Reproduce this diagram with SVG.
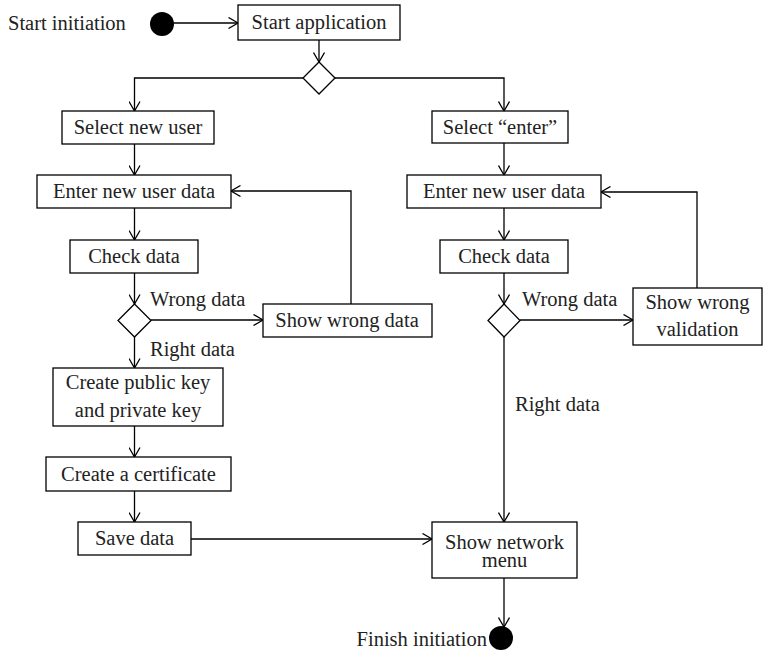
<svg xmlns="http://www.w3.org/2000/svg" width="765" height="657" viewBox="0 0 765 657">
<defs>
<marker id="arr" viewBox="0 0 10 12" refX="10" refY="6" markerWidth="10" markerHeight="12" markerUnits="userSpaceOnUse" orient="auto">
<path d="M0.5,0.5 L10,6 L0.5,11.5" fill="none" stroke="#000" stroke-width="1.3"/>
</marker>
<style>
.box{fill:#fff;stroke:#000;stroke-width:1.3}
.dia{fill:#fff;stroke:#000;stroke-width:1.3}
.t{font-family:"Liberation Serif","Times New Roman",serif;font-size:20.5px;fill:#222}
.c{text-anchor:middle}
.ln{fill:none;stroke:#000;stroke-width:1.3}
.ar{marker-end:url(#arr)}
</style>
</defs>
<rect width="765" height="657" fill="#fff"/>
<g id="connectors">
<line class="ln ar" x1="174" y1="23" x2="238" y2="23"/>
<line class="ln ar" x1="319" y1="40" x2="319" y2="62"/>
<polyline class="ln ar" points="303,78 134.5,78 134.5,111"/>
<polyline class="ln ar" points="335,78 504,78 504,111"/>
<line class="ln ar" x1="134.5" y1="144" x2="134.5" y2="175"/>
<line class="ln ar" x1="134.5" y1="208" x2="134.5" y2="240"/>
<line class="ln ar" x1="134.5" y1="273" x2="134.5" y2="304"/>
<line class="ln ar" x1="151" y1="320" x2="263" y2="320"/>
<polyline class="ln ar" points="351,304 351,191 231,191"/>
<line class="ln ar" x1="134.5" y1="337" x2="134.5" y2="368"/>
<line class="ln ar" x1="134.5" y1="426" x2="134.5" y2="457"/>
<line class="ln ar" x1="134.5" y1="491" x2="134.5" y2="522"/>
<line class="ln ar" x1="191" y1="539" x2="432" y2="539"/>
<line class="ln ar" x1="504" y1="143" x2="504" y2="175"/>
<line class="ln ar" x1="504" y1="208" x2="504" y2="240"/>
<line class="ln ar" x1="504" y1="273" x2="504" y2="304"/>
<line class="ln ar" x1="520" y1="320" x2="633" y2="320"/>
<polyline class="ln ar" points="697,288 697,192 601,192"/>
<line class="ln ar" x1="504" y1="337" x2="504" y2="522"/>
<line class="ln ar" x1="504" y1="578" x2="504" y2="627"/>
<text class="t" x="150" y="306">Wrong data</text>
<text class="t" x="150" y="356">Right data</text>
<text class="t" x="522" y="306">Wrong data</text>
<text class="t" x="515" y="411">Right data</text>
</g>
<g id="start">
<text class="t" x="8" y="30">Start initiation</text>
<circle cx="162" cy="24" r="12" fill="#000"/>
</g>
<g id="start-application">
<rect class="box" x="238" y="5" width="162" height="35"/>
<text class="t c" x="319" y="29">Start application</text>
</g>
<g id="decision-main">
<polygon class="dia" points="319,62 335,78 319,94 303,78"/>
</g>
<g id="select-new-user">
<rect class="box" x="62" y="111" width="152" height="33"/>
<text class="t c" x="138" y="134">Select new user</text>
</g>
<g id="enter-data-left">
<rect class="box" x="37" y="175" width="194" height="33"/>
<text class="t c" x="134" y="198">Enter new user data</text>
</g>
<g id="check-data-left">
<rect class="box" x="70" y="240" width="128" height="33"/>
<text class="t c" x="134" y="263">Check data</text>
</g>
<g id="decision-left">
<polygon class="dia" points="134.5,304 151,320.5 134.5,337 118,320.5"/>
</g>
<g id="show-wrong-data">
<rect class="box" x="263" y="304" width="169" height="33"/>
<text class="t c" x="347" y="327">Show wrong data</text>
</g>
<g id="create-keys">
<rect class="box" x="53" y="368" width="170" height="58"/>
<text class="t c" x="138" y="389">Create public key</text>
<text class="t c" x="138" y="417">and private key</text>
</g>
<g id="create-certificate">
<rect class="box" x="46" y="457" width="185" height="34"/>
<text class="t c" x="138.5" y="481">Create a certificate</text>
</g>
<g id="save-data">
<rect class="box" x="78" y="522" width="113" height="33"/>
<text class="t c" x="134.5" y="545">Save data</text>
</g>
<g id="select-enter">
<rect class="box" x="432" y="111" width="136" height="32"/>
<text class="t c" x="500" y="134">Select “enter”</text>
</g>
<g id="enter-data-right">
<rect class="box" x="407" y="175" width="194" height="33"/>
<text class="t c" x="504" y="198">Enter new user data</text>
</g>
<g id="check-data-right">
<rect class="box" x="440" y="240" width="128" height="33"/>
<text class="t c" x="504" y="263">Check data</text>
</g>
<g id="decision-right">
<polygon class="dia" points="504,304 520,320.5 504,337 488,320.5"/>
</g>
<g id="show-wrong-validation">
<rect class="box" x="633" y="288" width="129" height="57"/>
<text class="t c" x="697.5" y="309">Show wrong</text>
<text class="t c" x="697.5" y="336">validation</text>
</g>
<g id="show-network-menu">
<rect class="box" x="432" y="522" width="145" height="56"/>
<text class="t c" x="504.5" y="549">Show network</text>
<text class="t c" x="504.5" y="567">menu</text>
</g>
<g id="finish">
<circle cx="501" cy="638" r="12" fill="#000"/>
<text class="t" x="487" y="646" text-anchor="end">Finish initiation</text>
</g>
</svg>
